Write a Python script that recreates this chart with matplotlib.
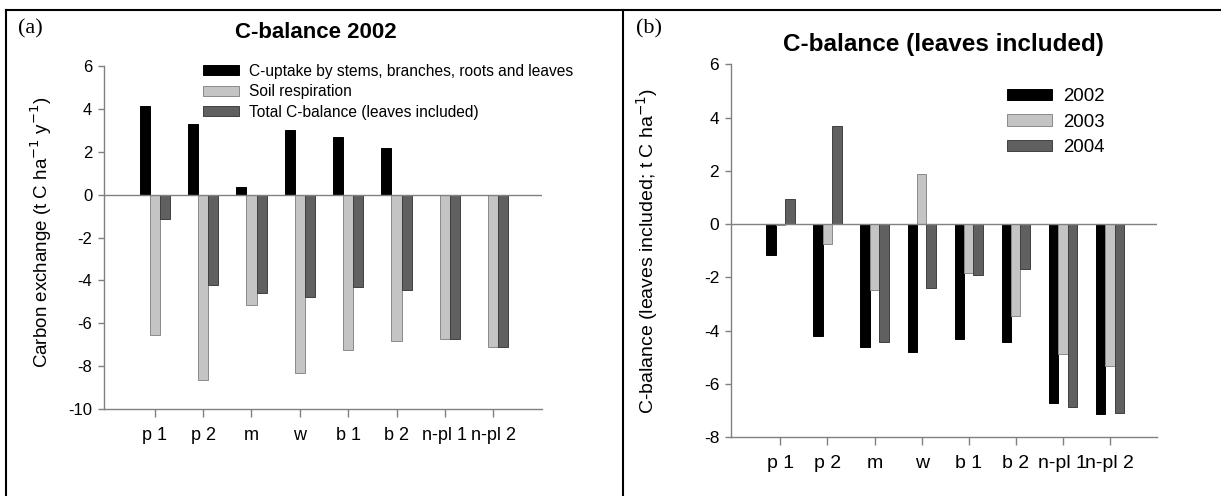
import numpy as np
import matplotlib
matplotlib.use('Agg')
import matplotlib.pyplot as plt
from matplotlib.lines import Line2D

plt.rcParams['font.family'] = ['Liberation Sans', 'DejaVu Sans']
plt.rcParams['axes.unicode_minus'] = False

sites = ['p 1', 'p 2', 'm', 'w', 'b 1', 'b 2', 'n-pl 1', 'n-pl 2']

# C-balance 2002 components (t C ha-1 y-1)
uptake_2002 = [4.15, 3.30, 0.36, 3.03, 2.67, 2.18, 0.0, 0.0]
soil_resp_2002 = [-6.55, -8.65, -5.13, -8.30, -7.26, -6.83, -6.72, -7.11]
total_2002 = [-1.16, -4.21, -4.61, -4.78, -4.30, -4.44, -6.72, -7.11]

# total C-balance per year (leaves included)
total_2003 = [-0.03, -0.73, -2.46, 1.90, -1.85, -3.44, -4.86, -5.34]
total_2004 = [0.96, 3.70, -4.41, -2.40, -1.92, -1.70, -6.87, -7.07]

black = '#000000'
light = '#c4c4c4'
dark = '#606060'
axis_grey = '#808080'

W, H = 1221, 496
fig = plt.figure(figsize=(W / 100, H / 100), dpi=100)


def px_axes(x0, x1, ytop, ybot):
    return fig.add_axes([x0 / W, 1 - ybot / H, (x1 - x0) / W, (ybot - ytop) / H])


def style(ax, ylo, yhi, xtick_size, ytick_size):
    ax.set_ylim(ylo, yhi)
    ax.set_yticks(np.arange(ylo, yhi + 1, 2))
    ax.set_xlim(-0.05, 9.0)
    ax.set_xticks(np.arange(1, len(sites) + 1))
    ax.set_xticklabels(sites)
    for s in ['top', 'right']:
        ax.spines[s].set_visible(False)
    for s in ['left', 'bottom']:
        ax.spines[s].set_color(axis_grey)
        ax.spines[s].set_linewidth(1.0)
    ax.axhline(0, color=axis_grey, lw=1.0, zorder=3)
    ax.tick_params(axis='y', direction='out', length=4.5, width=1, color=axis_grey,
                   labelsize=ytick_size, pad=4)
    ax.tick_params(axis='x', direction='out', length=6, width=1, color=axis_grey,
                   labelsize=xtick_size, pad=7)


x = np.arange(1, len(sites) + 1)

# (a) components of the 2002 balance
ax1 = px_axes(104, 541.6, 66, 409)
w = 0.21
ax1.bar(x - w, uptake_2002, w, color=black, edgecolor=black, lw=0.7, zorder=2,
        label='C-uptake by stems, branches, roots and leaves')
ax1.bar(x, soil_resp_2002, w, color=light, edgecolor='#8a8a8a', lw=0.7, zorder=2,
        label='Soil respiration')
ax1.bar(x + w, total_2002, w, color=dark, edgecolor='#404040', lw=0.7, zorder=2,
        label='Total C-balance (leaves included)')
style(ax1, -10, 6, 13, 12)
ax1.set_ylabel('Carbon exchange (t C ha$^{-1}$ y$^{-1}$)', fontsize=13.5)
ax1.yaxis.set_label_coords(-0.115, 0.515)
ax1.legend(loc='upper left', bbox_to_anchor=(0.227, 1.007), frameon=False,
           fontsize=11.2, handlelength=2.3, handleheight=0.6, handletextpad=0.63,
           labelspacing=0.36, borderpad=0, borderaxespad=0)

# (b) total balance per year
ax2 = px_axes(731, 1157, 64.3, 437.3)
w = 0.2
ax2.bar(x - w, total_2002, w, color=black, edgecolor=black, lw=0.7, zorder=2, label='2002')
ax2.bar(x, total_2003, w, color=light, edgecolor='#8a8a8a', lw=0.7, zorder=2, label='2003')
ax2.bar(x + w, total_2004, w, color=dark, edgecolor='#404040', lw=0.7, zorder=2, label='2004')
style(ax2, -8, 6, 14, 12.5)
ax2.set_ylabel('C-balance (leaves included; t C ha$^{-1}$)', fontsize=14)
ax2.yaxis.set_label_coords(-0.167, 0.5)
ax2.legend(loc='upper left', bbox_to_anchor=(0.648, 0.937), frameon=False,
           fontsize=13.4, handlelength=2.42, handleheight=0.54, handletextpad=0.6,
           labelspacing=0.47, borderpad=0, borderaxespad=0)

# titles and panel letters
fig.text(316 / W, 1 - 32.5 / H, 'C-balance 2002', ha='center', va='center',
         fontsize=16, fontweight='bold')
fig.text(943 / W, 1 - 44 / H, 'C-balance (leaves included)', ha='center', va='center',
         fontsize=17.5, fontweight='bold')
fig.text(18 / W, 1 - 29 / H, '(a)', ha='left', va='center', fontsize=16,
         family=['Liberation Serif', 'DejaVu Serif'])
fig.text(636 / W, 1 - 29 / H, '(b)', ha='left', va='center', fontsize=16,
         family=['Liberation Serif', 'DejaVu Serif'])

# table frame around the two panels
frame = dict(color='black', lw=1.5, transform=fig.transFigure, clip_on=False)
fig.add_artist(Line2D([6 / W, 1], [1 - 10 / H, 1 - 10 / H], **frame))
fig.add_artist(Line2D([6 / W, 6 / W], [0, 1 - 10 / H], **frame))
fig.add_artist(Line2D([623 / W, 623 / W], [0, 1 - 10 / H], **frame))

fig.savefig('out.png', dpi=100)
